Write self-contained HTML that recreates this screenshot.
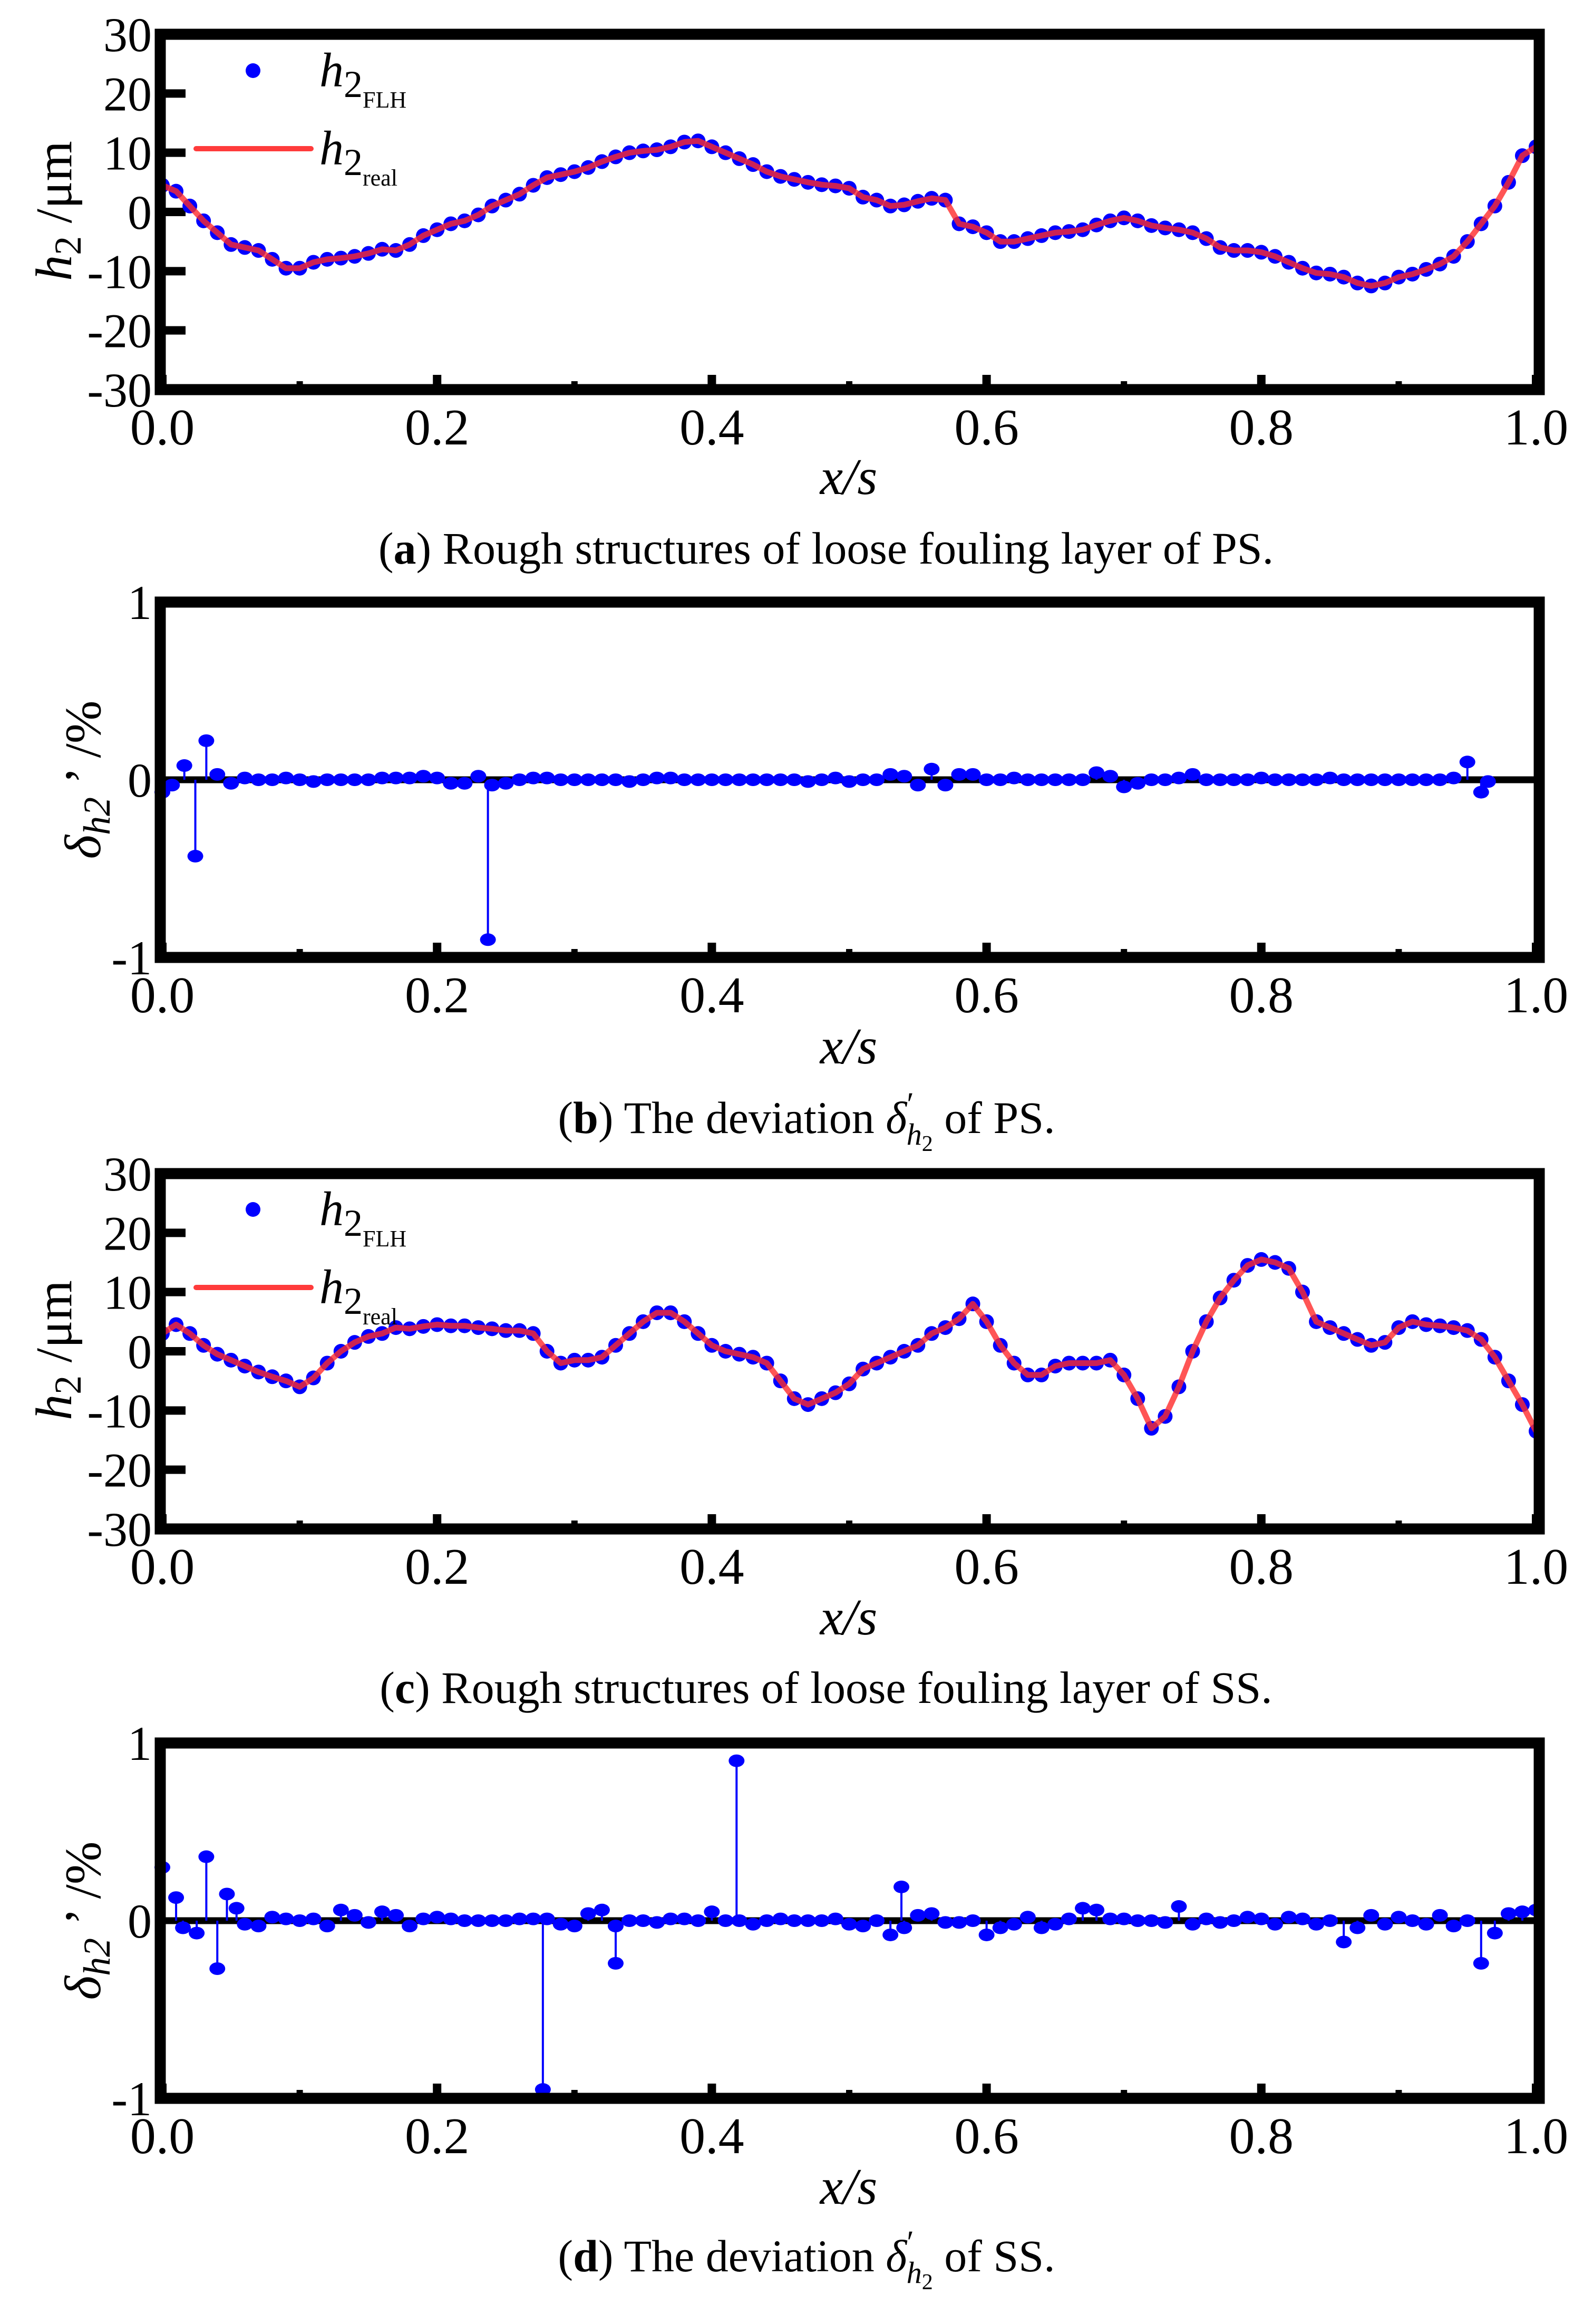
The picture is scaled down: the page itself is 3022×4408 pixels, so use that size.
<!DOCTYPE html>
<html><head><meta charset="utf-8"><style>
html,body{margin:0;padding:0;background:#fff;}
svg{display:block;font-family:"Liberation Serif",serif;}
</style></head><body>
<svg id="fig" xmlns="http://www.w3.org/2000/svg" width="3022" height="4408" viewBox="0 0 3022 4408">
<rect width="3022" height="4408" fill="#fff"/>
</svg>
<script>
// ---- data ----
const xTickLabels = ["0.0","0.2","0.4","0.6","0.8","1.0"];
const hTickLabels = ["30","20","10","0","-10","-20","-30"];
const dTickLabels = ["1","0","-1"];
// panel (a): h2 values at x = 0, 0.01 ... 1.0
const hA = [4.5,3.5,1,-1.5,-3.5,-5.5,-6,-6.5,-8,-9.5,-9.5,-8.5,-8,-7.8,-7.5,-7,-6.3,-6.5,-5.5,-4,-3,-2,-1.5,-0.5,1,2,3,4.5,5.8,6.3,6.8,7.5,8.5,9.3,10,10.3,10.5,11,11.8,12,11,10,9,8,6.8,6,5.5,5,4.6,4.4,4,2.5,2,1,1.2,1.8,2.3,2,-2,-2.5,-3.5,-5,-5,-4.5,-4,-3.5,-3.3,-3,-2.2,-1.5,-1,-1.5,-2.3,-2.7,-3,-3.5,-4.5,-6,-6.5,-6.5,-6.8,-7.5,-8.5,-9.5,-10.3,-10.5,-11,-12,-12.5,-12,-11,-10.5,-9.7,-8.8,-7.5,-5,-2,1,5,9.5,11];
// panel (c)
const hC = [3,4.5,3,1,-0.5,-1.5,-2.5,-3.5,-4.3,-5,-6,-4.5,-2,0,1.5,2.5,3,4,3.8,4.2,4.5,4.3,4.3,4,3.8,3.5,3.5,3,0,-2,-1.5,-1.5,-1,1,3,5,6.5,6.5,5,3,1,0,-0.5,-1,-2,-5,-8,-9,-8,-7,-5.5,-3,-2,-1,0,1,3,4,5.5,8,5,1,-2,-4,-4,-2.5,-2,-2,-2,-1.5,-4,-8,-13,-11,-6,0,5,9,12,14.5,15.5,15,14,10,5,4,3,2,1,1.5,4,5,4.5,4.3,4,3.5,2,-1,-5,-9,-13.5];
// panel (b): baseline deviations at x = 0.05 ... 0.96, plus outliers
const devBBase = [-0.02,0.01,0,0,0.01,0,-0.01,0,0,0,0,0.01,0.01,0.01,0.02,0.01,-0.02,-0.02,0.02,-0.03,-0.02,0,0.01,0.01,0,0,0,0,0,-0.01,0,0.01,0.01,0,0,0,0,0,0,0,0,0,-0.01,0,0.01,-0.01,0,0,0.03,0.02,-0.03,0.06,-0.03,0.03,0.03,0,0,0.01,0,0,0,0,0,0.04,0.02,-0.04,-0.02,0,0,0.01,0.03,0,0,0,0,0.01,0,0,0,0,0.01,0,0,0,0,0,0,0,0,0.01,0.1,-0.07];
const devBOutX = [0.0,0.007,0.016,0.024,0.032,0.04,0.237,0.965];
const devBOutY = [-0.07,-0.03,0.08,-0.43,0.22,0.03,-0.9,-0.01];
// panel (d): baseline at x = 0.07 ... 0.99
const devDBase = [-0.03,0.02,0.01,0,0.01,-0.03,0.06,0.03,-0.01,0.05,0.03,-0.03,0.01,0.02,0.01,0,0,0,0,0.01,0.01,0.01,-0.02,-0.03,0.04,0.06,-0.03,0,0,-0.01,0.01,0.01,0,0.05,0,0,-0.02,0,0.01,0,0,0,0.01,-0.02,-0.03,0,-0.08,-0.04,0.03,0.04,-0.01,-0.01,0,-0.08,-0.04,-0.02,0.02,-0.04,-0.02,0.01,0.07,0.06,0.01,0.01,0,0,-0.01,0.08,-0.02,0.01,-0.01,0,0.02,0.01,-0.02,0.02,0.01,-0.02,0,-0.12,-0.04,0.03,-0.02,0.02,0,-0.02,0.03,-0.03,0,-0.24,-0.07,0.04,0.05];
const devDOutX = [0,0.01,0.015,0.025,0.032,0.04,0.047,0.054,0.06,0.277,0.33,0.418,0.538,1.0];
const devDOutY = [0.3,0.13,-0.04,-0.07,0.36,-0.27,0.15,0.07,-0.02,-0.95,-0.24,0.9,0.19,0.06];

// ---- layout ----
const NS="http://www.w3.org/2000/svg";
const svg=document.getElementById('fig');
const X0=308, X1=2914, H=674;
const tops=[65,1142,2226,3306];
function sx(v){return X0+(X1-X0)*v;}
function mk(tag,attrs,parent){const e=document.createElementNS(NS,tag);for(const k in attrs)e.setAttribute(k,attrs[k]);(parent||svg).appendChild(e);return e;}

function frame(top,g){
  const bot=top+H;
  for(let i=0;i<=10;i++){
    const x=sx(i/10);const len=i%2===0?28:16;
    const t=mk('line',{x1:x,x2:x,y1:bot,y2:bot-len,stroke:'#000','stroke-width':i%2===0?16:12},g);
    
    
  }
  const f=mk('rect',{x:X0-4,y:top,width:X1-X0+10,height:H,fill:'none',stroke:'#000','stroke-width':21},g);
  
  
  xTickLabels.forEach((s,i)=>{
    const t=mk('text',{x:sx(i*0.2),y:bot+104,'font-size':98,'text-anchor':'middle'},g);
    t.textContent=s;
    
    
  });
}
function xTitle(y,g){
  const t=mk('text',{x:1610,y:y,'font-size':98,'font-style':'italic','text-anchor':'middle'},g);
  t.textContent='x/s';
  
  
}
function caption(y,cx,letter,rest,dev,tail,g){
  const t=mk('text',{x:cx,y:y,'font-size':86,'text-anchor':'middle'},g);
  
  
  t.innerHTML='(<tspan font-weight="bold">'+letter+'</tspan>) '+rest+(dev?'<tspan font-style="italic">δ</tspan><tspan font-size="62" dy="-34">′</tspan><tspan font-size="58" font-style="italic" dy="56" dx="-14">h</tspan><tspan font-size="42" dy="12">2</tspan><tspan dy="-34">  '+tail+'</tspan>':'');
}

function hPanel(top,vals,name,legendY){
  const g=mk('g',{});
  
  
  const sy=v=>top+(30-v)/60*H;
  for(let i=0;i<7;i++){
    const y=sy(30-i*10);
    if(i>0&&i<6){const t=mk('line',{x1:X0,x2:X0+44,y1:y,y2:y,stroke:'#000','stroke-width':16},g);
      
      }
    const l=mk('text',{x:288,y:y+32,'font-size':92,'text-anchor':'end'},g);
    l.textContent=hTickLabels[i];
    
    
  }
  vals.forEach((v,i)=>{
    const c=mk('circle',{cx:sx(i/100),cy:sy(v),r:14,fill:'#0000ff'},g);
    
    
  });
  const pts=vals.map((v,i)=>sx(i/100).toFixed(1)+','+sy(v).toFixed(1)).join(' ');
  const pl=mk('polyline',{points:pts,fill:'none',stroke:'#ff2a2a','stroke-opacity':0.8,'stroke-width':11,'stroke-linejoin':'round'},g);
  
  
  frame(top,g);
  const ld=mk('circle',{cx:480,cy:legendY,r:14,fill:'#0000ff'},g);
  
  
  const ll=mk('line',{x1:372,x2:590,y1:legendY+148,y2:legendY+148,stroke:'#ff3b3b','stroke-width':10,'stroke-linecap':'round'},g);
  
  
  const t1=mk('text',{x:606,y:legendY+30,'font-size':92},g);
  t1.innerHTML='<tspan font-style="italic">h</tspan><tspan font-size="72" dy="20">2</tspan><tspan font-size="44" dy="20">FLH</tspan>';
  
  
  const t2=mk('text',{x:606,y:legendY+178,'font-size':92},g);
  t2.innerHTML='<tspan font-style="italic">h</tspan><tspan font-size="72" dy="20">2</tspan><tspan font-size="44" dy="20">real</tspan>';
  
  
  const yt=mk('text',{transform:'translate(135,'+(top+335)+') rotate(-90)','font-size':98,'text-anchor':'middle'},g);
  yt.innerHTML='<tspan font-style="italic">h</tspan><tspan font-size="72" dy="18">2</tspan><tspan dy="-18"> /μm</tspan>';
  
  
}

function dPanel(top,base,baseStart,outX,outY,name){
  const g=mk('g',{});
  
  
  const sy=v=>top+(1-v)/2*H;
  const zl=mk('line',{x1:X0,x2:X1,y1:sy(0),y2:sy(0),stroke:'#000','stroke-width':13},g);
  
  
  dTickLabels.forEach((s,i)=>{
    const l=mk('text',{x:288,y:sy(1-i)+32,'font-size':92,'text-anchor':'end'},g);
    l.textContent=s;
    
    
  });
  const all=[];
  base.forEach((v,i)=>all.push([baseStart+i*0.01,v]));
  outX.forEach((x,i)=>all.push([x,outY[i]]));
  all.forEach(([x,v])=>{
    const s=mk('line',{x1:sx(x),x2:sx(x),y1:sy(0),y2:sy(v),stroke:'#0000ff','stroke-width':4},g);
    
    
    const c=mk('ellipse',{cx:sx(x),cy:sy(v),rx:15,ry:12,fill:'#0000ff'},g);
    
    
  });
  frame(top,g);
  const yt=mk('text',{transform:'translate(190,'+(top+337)+') rotate(-90)','font-size':98,'text-anchor':'middle'},g);
  yt.innerHTML='<tspan font-style="italic">δ</tspan><tspan font-style="italic" font-size="72" dy="18">h2</tspan><tspan dy="-18"> ’ /%</tspan>';
  
  
}

hPanel(tops[0],hA,'panel-a-chart',134);
xTitle(937);
caption(1069,1567,'a','Rough structures of loose fouling layer of PS.',false,'');
dPanel(tops[1],devBBase,0.05,devBOutX,devBOutY,'panel-b-chart');
xTitle(2017);
caption(2149,1530,'b','The deviation  ',true,'of PS.');
hPanel(tops[2],hC,'panel-c-chart',2294);
xTitle(3100);
caption(3230,1567,'c','Rough structures of loose fouling layer of SS.',false,'');
dPanel(tops[3],devDBase,0.07,devDOutX,devDOutY,'panel-d-chart');
xTitle(4180);
caption(4308,1530,'d','The deviation  ',true,'of SS.');
</script>
</body></html>
